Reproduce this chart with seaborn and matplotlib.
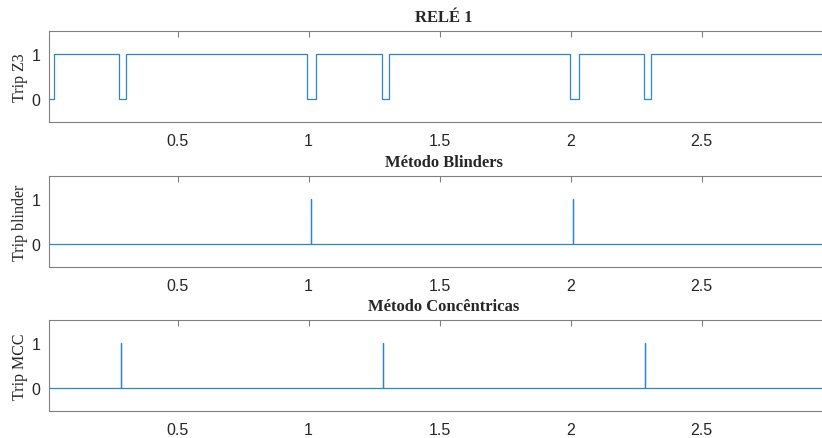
import matplotlib
matplotlib.use('Agg')
import matplotlib.pyplot as plt
import seaborn as sns
import pandas as pd

# step signals (time in s, state 0/1)
z3_t = [0.0, 0.028, 0.278, 0.303, 0.995, 1.030, 1.280, 1.306, 1.997, 2.032, 2.279, 2.306, 3.1]
z3_v = [0, 1, 0, 1, 0, 1, 0, 1, 0, 1, 0, 1, 1]

blinder_t = [0.0, 1.009, 1.0095, 2.009, 2.0095, 3.1]
blinder_v = [0, 1, 0, 1, 0, 0]

mcc_t = [0.0, 0.285, 0.2855, 1.285, 1.2855, 2.284, 2.2845, 3.1]
mcc_v = [0, 1, 0, 1, 0, 1, 0, 0]

titles = ['RELÉ 1', 'Método Blinders', 'Método Concêntricas']
ylabels = ['Trip Z3', 'Trip blinder', 'Trip MCC']
xticks = [0.5, 1, 1.5, 2, 2.5]
xticklabels = ['0.5', '1', '1.5', '2', '2.5']

sns.set_style('white')
plt.rcParams['font.family'] = ['Liberation Sans', 'DejaVu Sans']

fig = plt.figure(figsize=(8.22, 4.39), dpi=100)
# axes boxes [left, bottom, width, height]; right edge runs off the image like the original
boxes = [[0.0596, 0.720, 0.96, 0.207],
         [0.0596, 0.389, 0.96, 0.208],
         [0.0596, 0.062, 0.96, 0.207]]
series = [(z3_t, z3_v), (blinder_t, blinder_v), (mcc_t, mcc_v)]

for box, (t, v), title, ylab in zip(boxes, series, titles, ylabels):
    ax = fig.add_axes(box)
    df = pd.DataFrame({'t': t, 'v': v})
    sns.lineplot(data=df, x='t', y='v', ax=ax, color='#2a86cf', linewidth=0.9,
                 drawstyle='steps-post', estimator=None, sort=False)
    ax.set_xlim(0.009, 3.021)
    ax.set_ylim(-0.5, 1.5)
    ax.set_xticks(xticks)
    ax.set_xticklabels(xticklabels)
    ax.set_yticks([0, 1])
    ax.set_yticklabels(['0', '1'])
    ax.tick_params(direction='in', length=4, width=0.8, colors='#262626',
                   labelsize=11.5, top=True, right=True)
    ax.tick_params(axis='x', pad=8)
    ax.tick_params(axis='y', pad=6)
    ax.tick_params(axis='both', color='#808080')
    for s in ax.spines.values():
        s.set_color('#808080')
        s.set_linewidth(0.8)
    ax.set_xlabel('')
    ax.set_ylabel(ylab, family=['Liberation Serif'], fontsize=11.5, color='#262626', labelpad=3)
    ax.set_title(title, family=['Liberation Serif'], fontsize=12, fontweight='bold', pad=7)

fig.savefig('out.png', dpi=100)
